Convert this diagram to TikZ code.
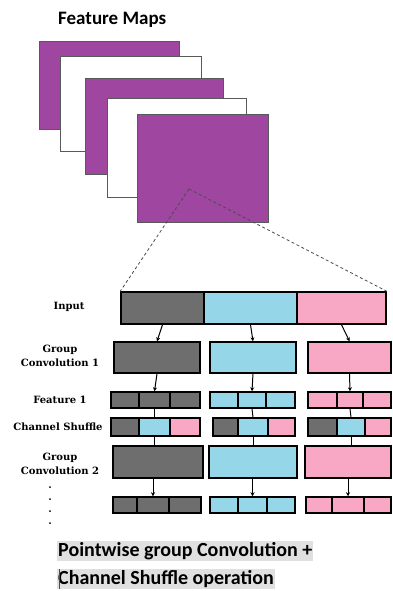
\documentclass[tikz,border=0pt]{standalone}
\usepackage{fontspec}
\usepackage{tikz}
\usetikzlibrary{arrows.meta}
\newfontfamily\lblfont{DejaVu Serif}
\newfontfamily\capfont{Carlito}
\definecolor{mapPurple}{RGB}{158,70,160}
\definecolor{grayBlk}{RGB}{110,110,110}
\definecolor{cyanBlk}{RGB}{149,215,232}
\definecolor{pinkBlk}{RGB}{248,168,196}
\definecolor{hiGray}{RGB}{224,224,224}
\tikzset{
    fmap/.style={draw=black!65,line width=0.9pt,anchor=north west,inner sep=0pt},
    blk/.style={draw=black,line width=1.5pt,inner sep=0pt,minimum height=31pt},
    cell/.style={draw=black,line width=1.5pt,inner sep=0pt,minimum height=16pt},
    lbl/.style={font=\lblfont\bfseries\fontsize{10}{14}\selectfont,align=center,inner sep=0pt},
    hilite/.style={fill=hiGray,anchor=west,inner sep=1pt,font=\capfont\bfseries\fontsize{20}{22}\selectfont},
    conn/.style={line width=1pt,-{Stealth[length=4pt,width=4pt]}},
    link/.style={line width=1pt},
    zoomline/.style={draw=black!70,line width=0.8pt,dash pattern=on 3pt off 2.5pt}
}

\begin{document}
\begin{tikzpicture}[x=1pt,y=-1pt]
        \useasboundingbox (0,0) rectangle (392,591);

        \draw (58,20) node[anchor=west,inner sep=0pt,font=\capfont\bfseries\fontsize{19}{21}\selectfont] (title) {Feature Maps};

        \draw (39,41) node[fmap,fill=mapPurple,minimum width=140pt,minimum height=88pt] (fm1) {};
        \draw (60,56) node[fmap,fill=white,minimum width=141pt,minimum height=95pt] (fm2) {};
        \draw (85,78) node[fmap,fill=mapPurple,minimum width=138pt,minimum height=96pt] (fm3) {};
        \draw (107,98) node[fmap,fill=white,minimum width=139pt,minimum height=99pt] (fm4) {};
        \draw (137,114) node[fmap,fill=mapPurple,minimum width=131pt,minimum height=108pt] (fm5) {};
        \coordinate (focus) at (189,189);

        \draw (162.5,308) node[blk,fill=grayBlk,minimum width=83pt,minimum height=32pt] (inG) {};
        \draw (250.5,308) node[blk,fill=cyanBlk,minimum width=93pt,minimum height=32pt] (inC) {};
        \draw (341.5,308) node[blk,fill=pinkBlk,minimum width=89pt,minimum height=32pt] (inP) {};
        \draw[zoomline] (focus) -- (inG.north west);
        \draw[zoomline] (focus) -- (inP.north east);

        \draw (157,357.5) node[blk,fill=grayBlk,minimum width=86pt] (gcaG) {};
        \draw (253,357.5) node[blk,fill=cyanBlk,minimum width=86pt] (gcaC) {};
        \draw (349.5,357.5) node[blk,fill=pinkBlk,minimum width=83pt] (gcaP) {};

        \foreach \x/\w/\c/\n in {125/28/grayBlk/a,154.5/31/grayBlk/b,185/30/grayBlk/c,
            224/28/cyanBlk/d,252/28/cyanBlk/e,280.5/29/cyanBlk/f,
            322.5/29/pinkBlk/g,350/26/pinkBlk/h,377/28/pinkBlk/i}
            \draw (\x,400) node[cell,fill=\c,minimum width=\w pt] (fa\n) {};

        \foreach \x/\w/\c/\n in {125/28/grayBlk/a,154.5/31/cyanBlk/b,185/30/pinkBlk/c,
            225.5/25/grayBlk/d,253/30/cyanBlk/e,281.5/27/pinkBlk/f,
            322.5/29/grayBlk/g,351/28/cyanBlk/h,378/26/pinkBlk/i}
            \draw (\x,427) node[cell,fill=\c,minimum width=\w pt,minimum height=18pt] (cs\n) {};

        \draw (158,462) node[blk,fill=grayBlk,minimum width=90pt,minimum height=32pt] (gcbG) {};
        \draw (253,462) node[blk,fill=cyanBlk,minimum width=88pt,minimum height=32pt] (gcbC) {};
        \draw (348,462) node[blk,fill=pinkBlk,minimum width=86pt,minimum height=32pt] (gcbP) {};

        \foreach \x/\w/\c/\n in {125/24/grayBlk/a,153/32/grayBlk/b,185/32/grayBlk/c,
            224/28/cyanBlk/d,252.5/29/cyanBlk/e,281/28/cyanBlk/f,
            319/26/pinkBlk/g,348/32/pinkBlk/h,377.5/27/pinkBlk/i}
            \draw (\x,505) node[cell,fill=\c,minimum width=\w pt] (fb\n) {};

        \draw[conn] (inG.south) -- (gcaG.north);
        \draw[conn] (inC.south) -- (gcaC.north);
        \draw[conn] (inP.south) -- (gcaP.north);
        \draw[conn] (gcaG.south) -- (fab.north);
        \draw[conn] (gcaC.south) -- (fae.north);
        \draw[conn] (gcaP.south) -- (fah.north);
        \draw[link] (fab.south) -- (csb.north);
        \draw[link] (fae.south) -- (cse.north);
        \draw[link] (fah.south) -- (csh.north);
        \draw[link] (csb.south) -- (gcbG.north -| csb.south);
        \draw[link] (cse.south) -- (gcbC.north -| cse.south);
        \draw[link] (csh.south) -- (gcbP.north -| csh.south);
        \draw[conn] (gcbG.south -| fbb.north) -- (fbb.north);
        \draw[conn] (gcbC.south -| fbe.north) -- (fbe.north);
        \draw[conn] (gcbP.south -| fbh.north) -- (fbh.north);

        \draw (69,307) node[lbl] (lblIn) {Input};
        \draw (60,356) node[lbl] (lblGca) {Group\\Convolution 1};
        \draw (60,400) node[lbl] (lblFa) {Feature 1};
        \draw (58,427) node[lbl] (lblCs) {Channel Shuffle};
        \draw (60,464) node[lbl] (lblGcb) {Group\\Convolution 2};
        \foreach \y in {487,499,511,523}
            \fill (50,\y) circle (1pt);

        \draw (57,551) node[hilite] (txtA) {Pointwise group Convolution +};
        \draw (57,579) node[hilite] (txtB) {Channel Shuffle operation};
        \draw[black!70,line width=0.8pt] ([xshift=2pt]txtB.north west) -- ([xshift=2pt]txtB.south west);
    \end{tikzpicture}
\end{document}
